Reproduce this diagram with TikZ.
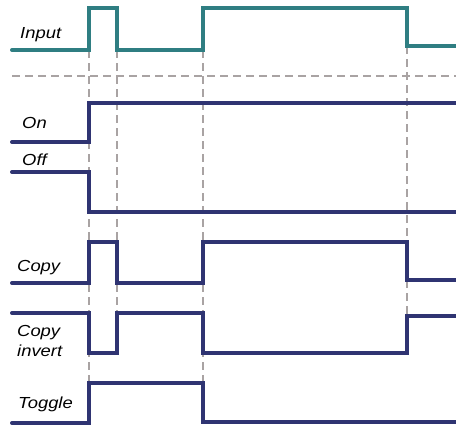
\documentclass[tikz,border=0pt]{standalone}
\usepackage{fontspec}
\setmainfont{Liberation Sans}
\usepackage{tikz}
\definecolor{sigteal}{HTML}{2F7E82}
\definecolor{signavy}{HTML}{2F3472}
\definecolor{guide}{HTML}{A9A3A3}
\tikzstyle{sig} = [line width=4pt, line join=miter, line cap=round]
\tikzstyle{mark line} = [guide, line width=2pt, dash pattern=on 8pt off 5pt]
\tikzstyle{lbl} = [anchor=base west, inner sep=0pt, xscale=1.15, font=\fontsize{16}{20}\selectfont\itshape, align=left]

\begin{document}
\begin{tikzpicture}[x=1pt,y=-1pt]
  \def\ta{89}
  \def\tb{117}
  \def\tc{203}
  \def\td{407}
  \useasboundingbox (0,0) rectangle (456,426);
  % guide lines
  \draw[mark line] (12,76) -- (456,76);
  \draw[mark line] (\ta,50) -- (\ta,383);
  \draw[mark line] (\tb,50) -- (\tb,313);
  \draw[mark line] (\tc,50) -- (\tc,383);
  \draw[mark line] (\td,46) -- (\td,316);
  % signals
  \draw[sig,sigteal] (12,50) -| (\ta,8) -| (\tb,50) -| (\tc,8) -| (\td,46) -- (456,46);
  \draw[sig,signavy] (12,142) -| (\ta,103) -- (456,103);
  \draw[sig,signavy] (12,172) -| (\ta,212) -- (456,212);
  \draw[sig,signavy] (12,283) -| (\ta,242) -| (\tb,283) -| (\tc,242) -| (\td,280) -- (456,280);
  \draw[sig,signavy] (12,313) -| (\ta,353) -| (\tb,313) -| (\tc,353) -| (\td,316) -- (456,316);
  \draw[sig,signavy] (12,423) -| (\ta,383) -| (\tc,422) -- (456,422);
  % labels
  \node[lbl] (input) at (20,38) {Input};
  \node[lbl] (on) at (22,128) {On};
  \node[lbl] (off) at (22,165) {Off};
  \node[lbl] (copy) at (17,271) {Copy};
  \node[lbl] (copyinv) at (17,356) {Copy\\invert};
  \node[lbl] (toggle) at (18,408) {Toggle};
\end{tikzpicture}
\end{document}
